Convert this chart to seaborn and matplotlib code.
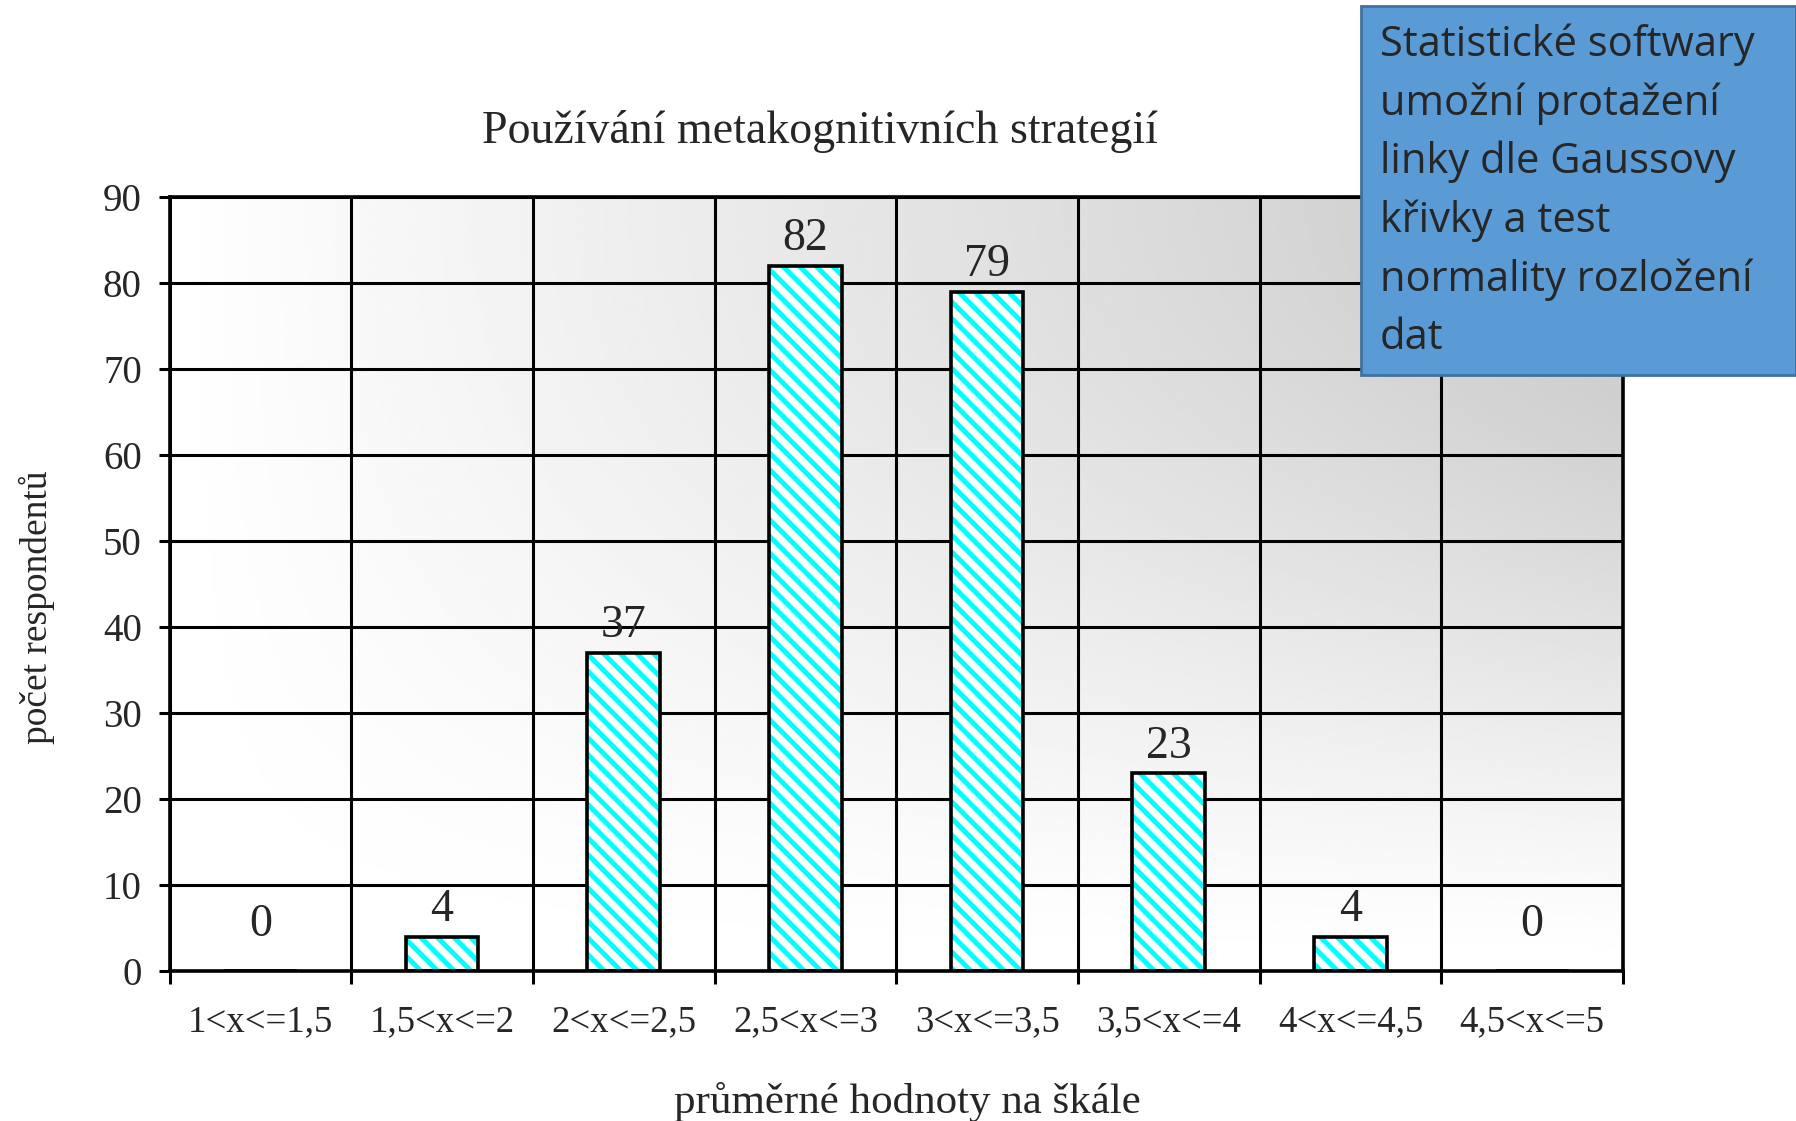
import matplotlib
matplotlib.use("Agg")
import matplotlib.pyplot as plt
from matplotlib.patches import Rectangle
import seaborn as sns
import numpy as np
import pandas as pd

# ----------- Data -----------
categories = ['1<x<=1,5', '1,5<x<=2', '2<x<=2,5', '2,5<x<=3',
              '3<x<=3,5', '3,5<x<=4', '4<x<=4,5', '4,5<x<=5']
counts = [0, 4, 37, 82, 79, 23, 4, 0]
title = 'Používání metakognitivních strategií'
xlabel = 'průměrné hodnoty na škále'
ylabel = 'počet respondentů'
note = ('Statistické softwary\numožní protažení\nlinky dle Gaussovy\n'
        'křivky a test\nnormality rozložení\ndat')

df = pd.DataFrame({'interval': categories, 'count': counts})

# ----------- Plot -----------
sns.set_style('white')
plt.rcParams['font.family'] = ['Liberation Serif', 'DejaVu Serif']
plt.rcParams['hatch.linewidth'] = 3.6

fig = plt.figure(figsize=(17.96, 11.21), dpi=100)
ax = fig.add_axes([0.0944, 0.1338, 0.9037 - 0.0944, 0.8243 - 0.1338])

# gradient background (white bottom-left -> grey top-right)
gx, gy = np.meshgrid(np.linspace(0, 1, 300), np.linspace(0, 1, 300))
dark = 0.21 * gx * np.sin(np.pi / 2 * gy) ** 1.3
ax.imshow(1 - dark, cmap='gray', vmin=0, vmax=1, origin='lower',
          extent=[0, 1, 0, 1], transform=ax.transAxes, aspect='auto',
          zorder=-2, interpolation='bilinear')

# hatched bars, then black outlines on top
sns.barplot(data=df, x='interval', y='count', ax=ax, width=0.4,
            color='white', saturation=1, zorder=2)
for p in ax.patches:
    p.set_facecolor('white')
    p.set_edgecolor('#00FFFF')
    p.set_hatch('\\\\')
    p.set_linewidth(0)
sns.barplot(data=df, x='interval', y='count', ax=ax, width=0.4,
            fill=False, edgecolor='black', linewidth=2.6, zorder=3)

ax.bar_label(ax.containers[0], labels=[str(c) if c else '' for c in counts],
             padding=4, fontsize=33)
ax.bar_label(ax.containers[0], labels=['' if c else str(c) for c in counts],
             padding=18, fontsize=33)

ax.set_xlim(-0.5, len(categories) - 0.5)
ax.set_ylim(0, 90)
ax.set_yticks(range(0, 91, 10))
ax.set_xticks(np.arange(-0.5, len(categories), 1.0), minor=True)

ax.grid(axis='y', which='major', color='black', lw=2.2, zorder=1)
ax.grid(axis='x', which='minor', color='black', lw=2.2, zorder=1)
ax.grid(axis='x', which='major', visible=False)
ax.set_axisbelow(True)

ax.tick_params(axis='y', which='major', direction='out', length=8,
               width=2.2, color='black', labelsize=28, pad=12, left=True)
ax.tick_params(axis='x', which='major', length=0, labelsize=26.5, pad=24)
ax.tick_params(axis='x', which='minor', direction='out', length=9,
               width=2.2, color='black', bottom=True)
for s in ax.spines.values():
    s.set_color('black')
    s.set_linewidth(2.6)

ax.set_xlabel('')
ax.set_ylabel('')

fig.text(0.4566, 0.883, title, ha='center', va='center', fontsize=33)
fig.text(0.505, 0.017, xlabel, ha='center', va='center', fontsize=31)
fig.text(0.0206, 0.458, ylabel, ha='center', va='center', fontsize=27,
         rotation=90)

# note box
fig.patches.append(Rectangle((0.7578, 0.6655), 0.2422, 0.3291,
                             transform=fig.transFigure, facecolor='#5B9BD5',
                             edgecolor='#41719C', lw=2, zorder=5))
fig.text(0.7684, 0.8296, note, ha='left', va='center', fontsize=30,
         linespacing=1.5, family=['Open Sans', 'DejaVu Sans'], zorder=6)

plt.savefig('out.png', dpi=100)
